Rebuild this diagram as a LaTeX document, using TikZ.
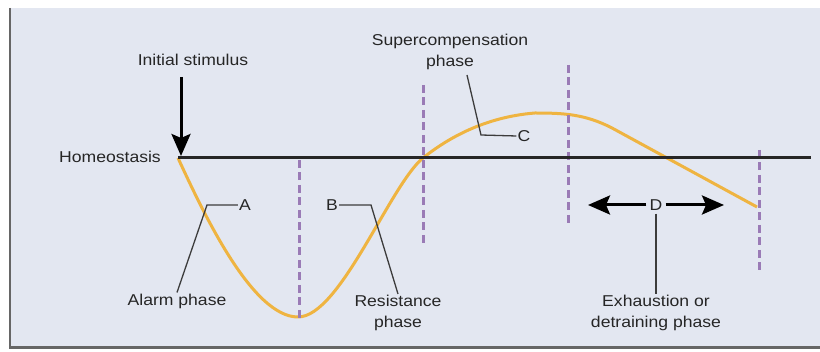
\documentclass[tikz,border=0pt]{standalone}
\usepackage{fontspec}
\setmainfont{Liberation Sans}[FakeStretch=1.12]
\usetikzlibrary{arrows.meta}
\definecolor{panel}{HTML}{E3E7F1}
\definecolor{curvec}{HTML}{EFB441}
\definecolor{dashc}{HTML}{9A7BB6}
\definecolor{txt}{HTML}{262626}
\begin{document}
\begin{tikzpicture}[x=1pt,y=-1pt,
  lbl/.style={text=txt,font=\fontsize{15.7}{21}\selectfont,inner sep=1pt,align=center},
  leader/.style={draw=txt!90,line width=1.3pt},
  phaseline/.style={draw=dashc,line width=3pt,dash pattern=on 8pt off 4.5pt},
  curvestyle/.style={draw=curvec,line width=3pt,line join=round},
  base/.style={draw=black!85,line width=3pt},
  bigarrow/.style={draw=black,line width=3pt,-{Stealth[length=22pt,width=19pt,inset=4pt]}}]
\useasboundingbox (0,0) rectangle (820,352);
\fill[white] (0,0) rectangle (820,352);
\fill[panel] (10,8) rectangle (820,347);
\draw[black!60,line width=2.4pt] (10,8) -- (10,347.5) -- (820,347.5);

% response curve
\draw[curvestyle] (178,158) .. controls (203,212) and (252,317) .. (298,317)
  .. controls (340,317) and (390,185) .. (423,158)
  .. controls (448,138) and (485,117) .. (535,113)
  .. controls (563,113) and (585,114) .. (612,128) -- (757,207);

% phase boundaries
\draw[phaseline] (299,160) -- (299,318);
\draw[phaseline] (423,85) -- (423,243);
\draw[phaseline] (568,65) -- (568,223);
\draw[phaseline] (759,150) -- (759,270.5);

% homeostasis line
\coordinate (h0) at (178,158);
\coordinate (h1) at (811,158);
\draw[base] (h0) -- (h1);

% labels
\node[lbl] (init) at (193,60) {Initial stimulus};
\node[lbl,anchor=east] (homeo) at (162,157) {Homeostasis};
\node[lbl] (super) at (450,52) {Supercompensation\\phase};
\node[lbl] (A) at (245,205) {A};
\node[lbl] (B) at (332,205) {B};
\node[lbl] (C) at (524,136) {C};
\node[lbl,inner sep=3pt] (D) at (656,205) {D};
\node[lbl] (alarm) at (177,301) {Alarm phase};
\node[lbl] (resist) at (398,313) {Resistance\\phase};
\node[lbl] (exhaust) at (656,313) {Exhaustion or\\detraining phase};

% initial stimulus arrow
\coordinate (stimtop) at (181,77);
\coordinate (stim) at (181,156);
\draw[bigarrow] (stimtop) -- (stim);

% D arrows
\coordinate (dl) at (588,205);
\coordinate (dr) at (724,205);
\draw[bigarrow] (D.west) -- (dl);
\draw[bigarrow] (D.east) -- (dr);

% leaders
\coordinate (ka) at (207,205);
\draw[leader] (alarm.north) -- (ka) -- (A.west);
\coordinate (kb) at (371,205);
\draw[leader] (B.east) -- (kb) -- (resist.north);
\coordinate (cs) at (467,75);
\coordinate (kc) at (481,135);
\draw[leader] (cs) -- (kc) -- (C.west);
\draw[leader] (D.south) -- (exhaust.north);
\end{tikzpicture}
\end{document}
